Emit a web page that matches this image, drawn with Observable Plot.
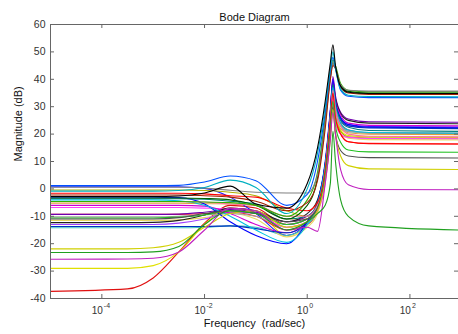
<!DOCTYPE html>
<html>
<head>
<meta charset="utf-8">
<script src="https://cdn.jsdelivr.net/npm/d3@7"></script>
<script src="https://cdn.jsdelivr.net/npm/@observablehq/plot@0.6"></script>
<style>
  html, body { margin: 0; padding: 0; background: #fff; overflow: hidden; }
</style>
</head>
<body>
<div id="chart"></div>
<script>
// log10 of frequency (rad/sec) at which each series is sampled
const logFreq = [-5, -3.5, -3, -2.5, -2, -1.5, -1, -0.4, 0, 0.2, 0.35, 0.45, 0.5, 0.55, 0.65, 0.8, 1.2, 2.95];

// Series starting low or in the middle, ending ~16-23 dB
const lowGroup = [
  [-37.4, -36.5, -32.5, -23, -12.5, -6, -7, -13, -11, -6, 7, 26, 36, 29, 24, 21.5, 20.4, 20.2],
  [-29, -29, -28, -23, -13, -7, -8, -17, -13, -8, 4, 22, 33, 26, 21.5, 19.5, 19, 18.8],
  [-5.2, -5.2, -5.2, -5.2, -5.4, -5.5, -6, -11, -11, -7, 6, 24, 34, 27, 22, 20.5, 20, 19.8],
  [0.8, 0.8, 0.8, 0.8, 0.2, -3, -9, -17, -12, -5, 9, 28, 39, 32, 26, 23.5, 22.8, 22.6],
  [-0.4, -0.4, -0.4, -0.4, -0.6, -1.2, -2.5, -8, -10, -7, 5, 24, 33, 26, 21, 19, 18.6, 18.5],
  [-9.3, -9.3, -9.3, -9.3, -9, -8.5, -10, -15, -13, -8, 4, 22, 32, 25, 20, 17.2, 16.6, 16.4],
  [-14.2, -14.2, -14.2, -14.2, -14, -13.5, -14, -17, -13, -8, 6, 24, 35, 28, 23, 21, 20.5, 20.3],
  [-11.5, -11.5, -11.5, -11.3, -10.5, -9, -11, -17.5, -14, -9, 3, 20, 30, 24, 20, 18.5, 18, 17.9],
  [-13, -13, -13, -12.5, -11, -8.5, -9, -13, -11, -7, 6, 25, 37, 30, 25, 23, 22.5, 22.3],
  [-10.2, -10.2, -10.2, -10, -9.5, -9, -10, -14, -12, -7, 5, 24, 35, 28, 23, 21, 20.6, 20.4],
  [-6.8, -6.8, -6.8, -6.8, -7, -7.5, -9, -14, -12, -8, 2, 20, 33, 25, 20, 18.8, 18.4, 18.3]
];
const lowColors = ["#e01010", "#e0e000", "#e0a040", "#2020ff", "#b0b000", "#ff2020",
  "#40c0c0", "#e8d860", "#a040ff", "#a0a0a0", "#ff40ff"];

// Series spread below the top cluster, ending ~-15 .. 24 dB
const midGroup = [
  [-9.3, -9.3, -9.3, -9.2, -8.5, -7.5, -8.5, -12, -10, -6, 8, 27, 41, 34, 28, 25.5, 24.5, 24.3],
  [-12.3, -12.3, -12.2, -11.5, -9.5, -7, -8, -12, -9, -4, 9, 28, 39, 33, 27.5, 25, 24, 23.8],
  [-6, -6, -6, -6, -6.3, -9, -13, -16, -12, -6, 8, 28, 40, 32, 27, 24, 23.2, 23],
  [-3, -3, -3, -3.2, -5.5, -12, -17, -20, -12, -5, 10, 29, 40, 32, 26, 23.5, 22.5, 22.3],
  [-13.7, -13.7, -13.7, -13.7, -13.7, -13.5, -14.5, -16, -12, -6, 8, 26, 38, 31, 25.5, 23, 22.2, 22],
  [-3.6, -3.6, -3.6, -3.6, -3.8, -4.5, -5.5, -11, -10, -5, 9, 27, 38, 31, 25, 22.5, 21.3, 21],
  [-4, -4, -4, -4.3, -6, -10, -15, -19.5, -13, -6, 8, 26, 37, 30, 24, 21.5, 20.6, 20.3],
  [-4.6, -4.6, -4.6, -4.6, -4.8, -5.5, -6, -10, -10, -6, 7, 26, 36, 29, 23, 20, 19.2, 19],
  [-1.6, -1.6, -1.6, -1.6, -1.8, -2.5, -3, -7, -8, -5, 7, 25, 35, 26, 20, 17.2, 16.5, 16.4],
  [-10.6, -10.6, -10.6, -10.3, -9.5, -8, -9, -13, -11, -7, 5, 22, 32, 23, 17, 14.2, 13.5, 13.4],
  [-11, -11, -11, -10.5, -9, -8, -9, -12, -11, -7, 4, 20, 30, 20, 14, 12, 11.4, 11.3],
  [-21.9, -21.9, -21.5, -19.5, -14, -9, -8, -14, -12, -8, 3, 18, 29, 20, 12, 8.5, 7.3, 7.1],
  [-25.7, -25.6, -25.3, -23, -15, -7, -8, -15, -14, -15.5, 2, 18, 28, 20, 7, 1.5, -0.2, -0.3],
  [-23.2, -23.2, -23, -21, -13, -8, -9, -15, -12, -9, -6, 2, 21, 10, -4, -10, -13.5, -15]
];
const midColors = ["#7000b0", "#202020", "#d000d0", "#0000ff", "#0030c0", "#008080",
  "#00c0e0", "#ff70a0", "#ff0000", "#20c020", "#505050", "#d0d000", "#c020c0", "#20a020"];

// Series ending ~33-36 dB (top cluster, highest resonance)
const topGroup = [
  [-3.3, -3.3, -3.3, -3.3, -3.5, -4, -6, -11, -6, 4, 25, 41, 46, 44, 38, 35.6, 35, 35],
  [-4.6, -4.6, -4.6, -4.6, -4.8, -5, -6, -10, -4, 6, 26, 42, 47, 45, 38.5, 36, 35.4, 35.4],
  [0.6, 0.6, 0.6, 0.6, 0.3, -0.5, -1.2, -1.5, -1.5, 5, 24, 40, 46, 44, 38, 36, 35.7, 35.7],
  [-2.2, -2.2, -2.2, -2.2, -2.5, -3, -4.5, -8, -5, 3, 22, 40, 45, 44, 37, 35, 34.5, 34.5],
  [1.2, 1.2, 1.2, 1.3, 2.5, 4.7, 3, -6, -2, 10, 28, 43, 48, 44, 36, 33.8, 33.3, 33.3],
  [-0.8, -0.8, -0.8, -0.6, 0.5, 3.2, 0.5, -9, 0, 13, 30, 44, 50, 44, 36.5, 34.2, 33.7, 33.6],
  [-2.8, -2.8, -2.8, -2.6, -1.5, 1, -5.5, -7, 2, 15, 32, 46, 52.6, 45, 37.5, 35.3, 34.8, 34.8]
];
const topColors = ["#006000", "#30b000", "#808080", "#a02000", "#0050ff", "#00b0c0", "#000000"];

const yTicks = [-40, -30, -20, -10, 0, 10, 20, 30, 40, 50, 60];
const xTickExps = [-4, -2, 0, 2];

const series = [
  ...lowGroup.map((v, i) => ({v, color: lowColors[i]})),
  ...midGroup.map((v, i) => ({v, color: midColors[i]})),
  ...topGroup.map((v, i) => ({v, color: topColors[i]}))
];
const rows = series.flatMap((s, k) => s.v.map((m, j) => ({k, f: Math.pow(10, logFreq[j]), m, color: s.color})));

const axisColor = "#666";
const textColor = "#333";
const xMin = 1e-5, xMax = Math.pow(10, 2.946);
const W = 458, H = 334, mL = 50, mR = 0, mT = 24, mB = 36;
const pw = W - mL - mR, ph = H - mT - mB;

const chart = Plot.plot({
  width: W, height: H,
  marginLeft: mL, marginRight: mR, marginTop: mT, marginBottom: mB,
  style: {fontFamily: "'Liberation Sans', Arial, Helvetica, sans-serif", fontSize: "10.5px", color: textColor, background: "#fff", overflow: "visible"},
  x: {type: "log", domain: [xMin, xMax], axis: null},
  y: {domain: [-40, 60], axis: null},
  color: {type: "identity"},
  marks: [
    Plot.line(rows, {x: "f", y: "m", z: "k", stroke: "color", curve: "monotone-x", strokeWidth: 1.1, clip: true}),
    Plot.ruleX([xMin], {stroke: axisColor}),
    Plot.ruleY([-40, 60], {stroke: axisColor}),
    Plot.tickY(yTicks, {y: d => d, insetRight: pw - 4, stroke: axisColor}),
    Plot.tickY(yTicks, {y: d => d, insetLeft: pw - 4, stroke: axisColor}),
    Plot.tickX(xTickExps, {x: d => Math.pow(10, d), insetTop: ph - 4, stroke: axisColor}),
    Plot.tickX(xTickExps, {x: d => Math.pow(10, d), insetBottom: ph - 4, stroke: axisColor}),
    Plot.text(yTicks, {x: xMin, y: d => d, text: d => String(d), textAnchor: "end", dx: -5, fill: textColor}),
    Plot.text(xTickExps, {x: d => Math.pow(10, d), y: -40, text: () => "10", textAnchor: "end", dx: 1, dy: 12.5, fill: textColor, fontSize: 10}),
    Plot.text(xTickExps, {x: d => Math.pow(10, d), y: -40, text: d => String(d), textAnchor: "start", dx: 2, dy: 7, fill: textColor, fontSize: 7}),
    Plot.text(["Bode Diagram"], {frameAnchor: "top", dy: -11, text: d => d, fill: "#111", fontSize: 11}),
    Plot.text(["Frequency\u00a0 (rad/sec)"], {frameAnchor: "bottom", dy: 28, text: d => d, fill: "#111", fontSize: 11}),
    Plot.text(["Magnitude (dB)"], {frameAnchor: "left", dx: -32, rotate: -90, text: d => d, fill: "#111", fontSize: 11})
  ]
});
document.getElementById("chart").appendChild(chart);
</script>
</body>
</html>
